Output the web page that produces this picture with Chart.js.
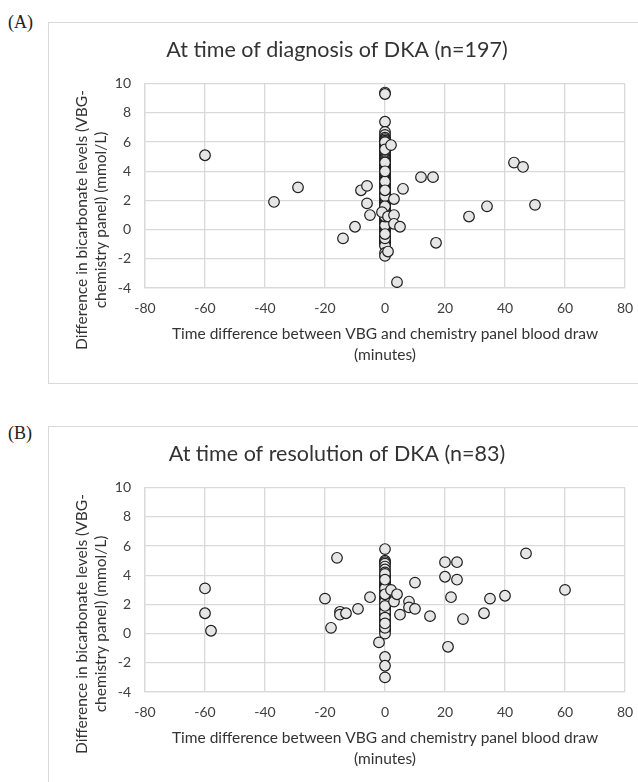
<!DOCTYPE html>
<html>
<head>
<meta charset="utf-8">
<script src="https://cdn.jsdelivr.net/npm/chart.js@4.4.1/dist/chart.umd.min.js"></script>
<style>
  html, body { margin: 0; padding: 0; background: #fff; overflow: hidden; }
  body { width: 638px; height: 782px; position: relative; }
  .panel { position: absolute; left: 48px; border: 1px solid #d9d9d9; width: 602px; height: 360px; }
  .tag { position: absolute; left: 8px; font-family: "Liberation Serif", serif; font-size: 18px; line-height: 1; color: #222; }
</style>
</head>
<body>
<div class="tag" style="top:13px">(A)</div>
<div class="panel" style="top:22px"><canvas id="chartA"></canvas></div>
<div class="tag" style="top:424px">(B)</div>
<div class="panel" style="top:426px"><canvas id="chartB"></canvas></div>
<script>
// axis ticks
const xTicks = [-80, -60, -40, -20, 0, 20, 40, 60, 80];
const yTicks = [-4, -2, 0, 2, 4, 6, 8, 10];

const xTitle = ['Time difference between VBG and chemistry panel blood draw', '(minutes)'];
const yTitle = ['Difference in bicarbonate levels (VBG-', 'chemistry panel) (mmol/L)'];

// (A) diagnosis: points away from the zero column
const diagX = [-60, -37, -29, -14, -10, -8, -6, -6, -5, -1, 1, 1, 2, 3, 3, 3, 4, 5, 6, 12, 16, 17, 28, 34, 43, 46, 50];
const diagY = [5.1, 1.9, 2.9, -0.6, 0.2, 2.7, 3.0, 1.8, 1.0, 1.2, -1.5, 0.9, 5.8, 2.1, 1.0, 0.4, -3.6, 0.2, 2.8, 3.6, 3.6, -0.9, 0.9, 1.6, 4.6, 4.3, 1.7];
// (A) diagnosis: points drawn at the same time (x = 0)
const diagZeroY = [
  9.4, 9.3, 7.4, 6.7, 6.5, 6.3, 6.2, 6.1, 6.0, 6.0, 5.9, 5.8, 5.7, 5.6, 5.5, 5.5, 5.4, 5.3, 5.2, 5.1,
  5.0, 4.9, 4.8, 4.8, 4.7, 4.6, 4.6, 4.5, 4.4, 4.3, 4.2, 4.2, 4.1, 4.0, 3.9, 3.9, 3.8, 3.7, 3.6, 3.6,
  3.5, 3.4, 3.3, 3.3, 3.2, 3.1, 3.0, 3.0, 2.9, 2.8, 2.7, 2.7, 2.6, 2.5, 2.5, 2.4, 2.3, 2.3, 2.2, 2.1,
  2.0, 2.0, 1.9, 1.8, 1.8, 1.7, 1.6, 1.6, 1.5, 1.4, 1.4, 1.3, 1.2, 1.2, 1.1, 1.1, 1.0, 1.0, 0.9, 0.8,
  0.8, 0.7, 0.6, 0.6, 0.5, 0.4, 0.3, 0.3, 0.2, 0.1, 0.0, 0.0, -0.1, -0.2, -0.3, -0.4, -0.5, -0.6, -0.6, -0.7,
  -0.8, -0.9, -1.0, -1.1, -1.6, -1.8, 4.6, 3.9, 3.3, 2.3, 1.1, 0.3, -0.6, 6.0, 5.5, 2.7, 1.6, 0.9, -0.3, 4.0
];

// (B) resolution: points away from the zero column
const resX = [-60, -60, -58, -20, -18, -16, -15, -15, -13, -9, -5, -2, 2, 3, 4, 5, 8, 8, 10, 10, 15, 20, 20, 21, 22, 24, 24, 26, 33, 35, 40, 47, 60];
const resY = [3.1, 1.4, 0.2, 2.4, 0.4, 5.2, 1.5, 1.3, 1.4, 1.7, 2.5, -0.6, 3.0, 2.2, 2.7, 1.3, 2.2, 1.8, 3.5, 1.7, 1.2, 4.9, 3.9, -0.9, 2.5, 4.9, 3.7, 1.0, 1.4, 2.4, 2.6, 5.5, 3.0];
// (B) resolution: points at x = 0
const resZeroY = [
  5.8, 5.0, 4.9, 4.8, 4.6, 4.4, 4.2, 4.0, 3.9, 3.8, 3.6, 3.5, 3.4, 3.3, 3.2, 3.0, 2.8, 2.6, 2.5, 2.4,
  2.3, 2.1, 2.0, 1.8, 1.7, 1.6, 1.4, 1.3, 1.2, 1.0, 0.8, 0.6, 0.5, 0.3, 0.2, 0.0, -1.6, -2.2, -3.0,
  4.1, 3.1, 2.2, 1.5, 0.9, 0.4, 2.7, 1.9, 3.7, 1.1, 0.7
];

const FONT = "Lato, 'Open Sans', sans-serif";

function toPoints(xs, ys, zeroYs) {
  const pts = zeroYs.map(v => ({ x: 0, y: v }));
  xs.forEach((x, i) => pts.push({ x: x, y: ys[i] }));
  return pts;
}

// y axis title sits lower than the plot centre in the original, so draw it by hand
const yTitlePlugin = {
  id: 'yTitle',
  afterDraw(chart) {
    const c = chart.ctx;
    c.save();
    c.font = '15.5px ' + FONT;
    c.fillStyle = '#333333';
    c.textAlign = 'center';
    c.textBaseline = 'middle';
    c.translate(0, 197);
    c.rotate(-Math.PI / 2);
    c.fillText(yTitle[0], 0, 32.5);
    c.fillText(yTitle[1], 0, 51.5);
    c.restore();
  }
};

function makeChart(id, title, points) {
  const ctx = document.getElementById(id).getContext('2d');
  return new Chart(ctx, {
    type: 'scatter',
    data: {
      datasets: [{
        data: points,
        pointRadius: 5.3,
        pointBackgroundColor: '#e6e6e6',
        pointBorderColor: '#1e1e1e',
        pointBorderWidth: 1.2
      }]
    },
    plugins: [yTitlePlugin],
    options: {
      responsive: true,
      maintainAspectRatio: false,
      animation: false,
      layout: { padding: { left: 0, right: 26, top: 0, bottom: 0 } },
      plugins: {
        legend: { display: false },
        tooltip: { enabled: false },
        title: {
          display: true,
          text: title,
          color: '#333333',
          font: { family: FONT, size: 21.5, weight: 'normal', lineHeight: 1.2 },
          padding: { top: 14, bottom: 21 }
        }
      },
      scales: {
        x: {
          type: 'linear',
          min: xTicks[0],
          max: xTicks[xTicks.length - 1],
          ticks: { stepSize: 20, padding: 12, color: '#404040', font: { family: FONT, size: 14 } },
          grid: { color: '#d9d9d9', lineWidth: 1.3, drawTicks: false },
          border: { color: '#d9d9d9', width: 1.3 },
          title: {
            display: true,
            text: xTitle,
            color: '#333333',
            font: { family: FONT, size: 15.5, lineHeight: 1.35 },
            padding: { top: 0, bottom: 18 }
          },
          afterFit: s => { s.height = 95; s.paddingLeft = 0; s.paddingRight = 0; }
        },
        y: {
          type: 'linear',
          min: yTicks[0],
          max: yTicks[yTicks.length - 1],
          ticks: { stepSize: 2, padding: 14, color: '#404040', font: { family: FONT, size: 14 } },
          grid: { color: '#d9d9d9', lineWidth: 1.3, drawTicks: false },
          border: { color: '#d9d9d9', width: 1.3 },
          title: { display: false },
          afterFit: s => { s.width = 96; s.paddingTop = 0; s.paddingBottom = 0; }
        }
      }
    }
  });
}

makeChart('chartA', 'At time of diagnosis of DKA (n=197)', toPoints(diagX, diagY, diagZeroY));
makeChart('chartB', 'At time of resolution of DKA (n=83)', toPoints(resX, resY, resZeroY));
</script>
</body>
</html>
